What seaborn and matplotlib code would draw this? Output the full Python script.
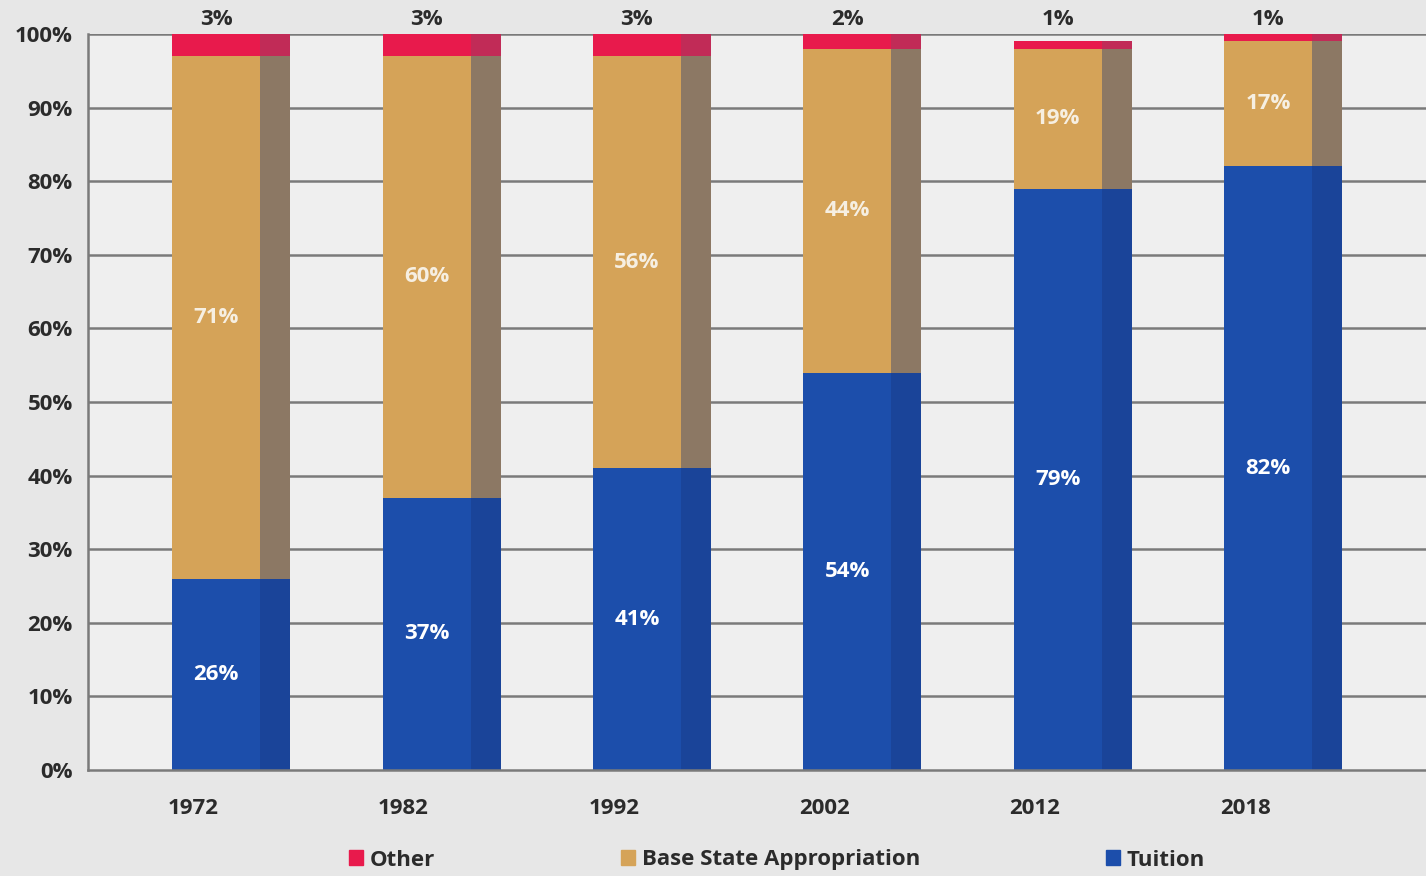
import pandas as pd
import seaborn as sns
import matplotlib.pyplot as plt
from matplotlib.patches import Patch

# values (percent of revenue)
years = ['1972', '1982', '1992', '2002', '2012', '2018']
tuition = [26, 37, 41, 54, 79, 82]
base_state = [71, 60, 56, 44, 19, 17]
other = [3, 3, 3, 2, 1, 1]

# colours: front face and darker side strip
blue, blue_side = '#1c4eab', '#1a4499'
tan, tan_side = '#d5a358', '#8c7864'
red, red_side = '#e81a4c', '#c12b57'

sns.set_theme(style='white')
plt.rcParams['font.family'] = ['Open Sans', 'DejaVu Sans']

df = pd.DataFrame({'year': years, 'tuition': tuition,
                   'base': base_state, 'other': other})
df['pos'] = range(len(df))
df['top_tuition'] = df['tuition']
df['top_base'] = df['tuition'] + df['base']
df['top_other'] = df['top_base'] + df['other']

fig = plt.figure(figsize=(14.26, 8.76), dpi=100, facecolor='#e7e7e7')
ax = fig.add_axes([88 / 1426, 1 - 770 / 876, 1 - 88 / 1426, (770 - 34) / 876])
ax.set_facecolor('#efefef')

# grid behind bars
for v in range(10, 101, 10):
    ax.axhline(v, color='#7a7a7a', lw=1.8, zorder=0)

front_off, front_w = 0.109, 0.418
side_off, side_w = 0.39, 0.143
df['x_front'] = df['pos'] + front_off
df['x_side'] = df['pos'] + side_off

layers = [('top_other', red, red_side), ('top_base', tan, tan_side),
          ('top_tuition', blue, blue_side)]
for col, c_front, c_side in layers:
    sns.barplot(data=df, x='x_front', y=col, native_scale=True, width=front_w,
                color=c_front, saturation=1, linewidth=0, ax=ax, zorder=2)
    sns.barplot(data=df, x='x_side', y=col, native_scale=True, width=side_w,
                color=c_side, saturation=1, linewidth=0, ax=ax, zorder=2)

lab_kw = dict(ha='center', va='center', fontsize=16, fontweight='bold')
for _, r in df.iterrows():
    xc = r['x_front']
    ax.text(xc, r['tuition'] / 2, f"{r['tuition']}%", color='white', zorder=5, **lab_kw)
    ax.text(xc, r['tuition'] + r['base'] / 2, f"{r['base']}%", color='#f6efe2', zorder=5, **lab_kw)
    ax.text(xc, 102.0, f"{r['other']}%", color='#2b2b2b', clip_on=False, zorder=5, **lab_kw)

ax.set_xlim(-0.5, -0.5 + (1426 - 88) / 210.4)
ax.set_ylim(0, 100)
ax.set_xticks(df['pos'])
ax.set_xticklabels(years)
ax.set_xticks([p - 0.5 for p in range(7)], minor=True)
ax.set_yticks(range(0, 101, 10))
ax.set_yticklabels([f'{v}%' for v in range(0, 101, 10)])
ax.tick_params(axis='x', which='major', length=0, pad=20, labelsize=16, labelcolor='#2b2b2b')
ax.tick_params(axis='x', which='minor', length=7, width=1.8, color='#7a7a7a', direction='out')
ax.tick_params(axis='y', length=7, width=1.8, color='#7a7a7a', direction='out',
               labelsize=16, labelcolor='#2b2b2b', pad=4)
for lbl in ax.get_xticklabels() + ax.get_yticklabels():
    lbl.set_fontweight('bold')
ax.set_xlabel('')
ax.set_ylabel('')
for s in ['top', 'right']:
    ax.spines[s].set_visible(False)
for s in ['left', 'bottom']:
    ax.spines[s].set_color('#7a7a7a')
    ax.spines[s].set_linewidth(1.8)

handles = [Patch(color=red, label='Other'), Patch(color=tan, label='Base State Appropriation'),
           Patch(color=blue, label='Tuition')]
leg = fig.legend(handles=handles, loc='center', bbox_to_anchor=(777 / 1426, 1 - 860 / 876),
                 ncol=3, frameon=False, fontsize=16, handlelength=0.65, handleheight=0.65,
                 handletextpad=0.3, columnspacing=8.35)
for t in leg.get_texts():
    t.set_color('#2b2b2b')
    t.set_fontweight('bold')

fig.savefig('out.png', dpi=100, facecolor=fig.get_facecolor())
